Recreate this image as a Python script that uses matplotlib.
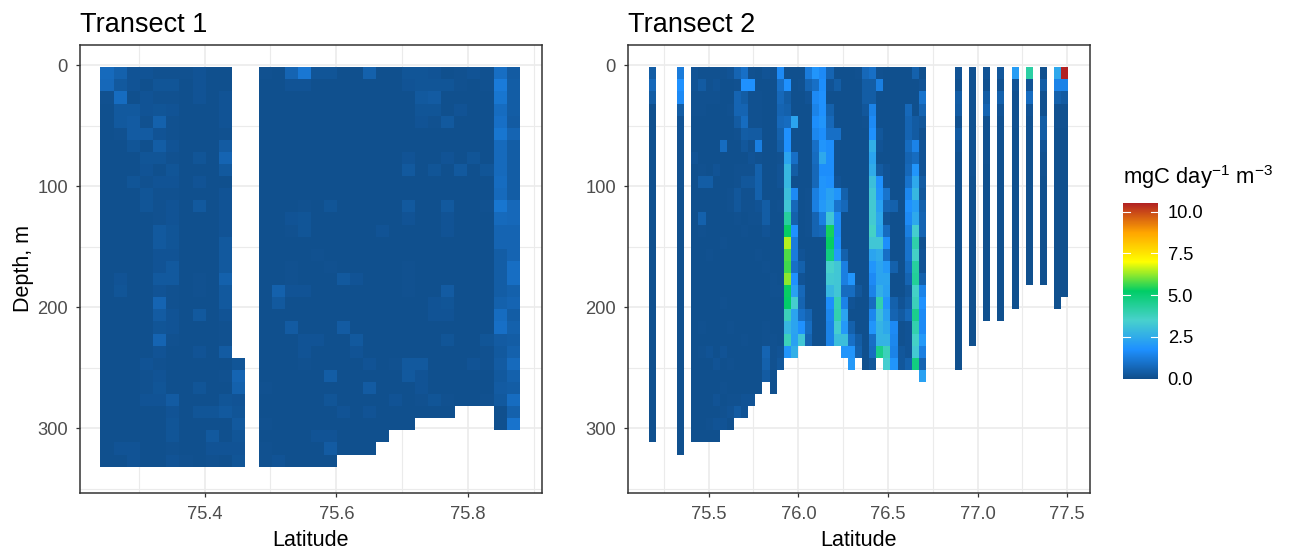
import numpy as np
import matplotlib
matplotlib.use("Agg")
import matplotlib.pyplot as plt
from matplotlib.colors import LinearSegmentedColormap, Normalize
from matplotlib.cm import ScalarMappable

plt.rcParams['font.family'] = ['Liberation Sans', 'DejaVu Sans']
plt.rcParams['mathtext.fontset'] = 'custom'
plt.rcParams['mathtext.rm'] = 'Liberation Sans'
plt.rcParams['mathtext.it'] = 'Liberation Sans'
plt.rcParams['mathtext.default'] = 'regular'

titles = ["Transect 1", "Transect 2"]
xlabel = "Latitude"
ylabel = "Depth, m"
legend_title = "mgC day$^{-1}$ m$^{-3}$"
legend_ticks = [0.0, 2.5, 5.0, 7.5, 10.0]
palette = ["#104E8B", "#1E90FF", "#48D1CC", "#00CD66", "#FFFF00", "#FFA500", "#B22222"]
vmax = 10.5
depth_top = 1.5
depth_step = 10
tile1 = 0.02
tile2 = 0.0397

# Transect 1: latitude -> (first row index, values from the top down)
t1 = {
75.2515: (0, [.75,.7,.1,.05,.05,.05,.05,.05,.05,.05, .05,.05,.05,.05,.05,.05,.05,.05,.05,.05, .05,.05,.05,.05,.05,.05,.05,.05,.05,.05, .05,.05,.05]),
75.2715: (0, [.5,.3,.8,.3,.3,.1,.05,.05,.05,.05, .05,.05,.05,.05,.05,.05,.05,.15,.2,.05, .05,.05,.05,.05,.05,.05,.05,.05,.05,.05, .05,.15,.05]),
75.2915: (0, [.15,.15,.05,.3,.35,.35,.2,.05,.05,.2, .05,.05,.05,.05,.05,.05,.05,.05,.05,.05, .05,.05,.05,.05,.05,.05,.05,.05,.05,.05, .05,.15,.15]),
75.3115: (0, [.15,.05,.15,.15,.1,.35,.05,.2,.15,.1, .2,.2,.05,.05,.05,.05,.05,.05,.05,.05, .05,.05,.05,.05,.15,.1,.1,.15,.05,.05, .05,.05,.05]),
75.3315: (0, [.1,.2,.1,.2,.5,.15,.4,.2,.05,.15, .1,.1,.1,.3,.3,.15,.15,.3,.15,.6, .35,.2,.6,.15,.1,.15,.2,.15,.05,.05, .05,.05,.05]),
75.3515: (0, [.1,.2,.1,.15,.1,.1,.15,.1,.2,.15, .1,.15,.15,.2,.2,.15,.3,.3,.1,.1, .15,.15,.1,.05,.05,.05,.05,.35,.15,.2, .2,.1,.15]),
75.3715: (0, [.1,.05,.05,.05,.05,.05,.05,.05,.05,.05, .05,.05,.05,.05,.05,.05,.05,.05,.05,.05, .05,.05,.05,.05,.05,.05,.05,.05,.05,.05, .05,.05,.1]),
75.3915: (0, [.15,.15,.15,.05,.05,.05,.05,.2,.05,.15, .05,.3,.05,.05,.05,.05,.05,.1,.1,.05, .3,.05,.05,.15,.05,.05,.2,.05,.2,.05, .05,.05,.05]),
75.4115: (0, [.05,.05,.05,.05,.05,.05,.05,.05,.05,.05, .05,.05,.05,.05,.05,.05,.05,.05,.05,.05, .05,.05,.05,.05,.05,.05,.05,.05,.2,.05, .3,.15,.1]),
75.4315: (0, [.05,.05,.15,.15,.15,.1,.35,.6,.3,.05, .15,.15,.15,.15,.3,.3,.3,.5,.3,.3, .15,.1,.1,.35,.05,.1,.05,.2,.3,.05, .05,.15,.05]),
75.4515: (24, [.2,.6,.5,.15,.2,.3,.2,.15,.2]),
75.4925: (0, [.1,.05,.05,.05,.05,.05,.05,.05,.05,.05, .05,.05,.05,.05,.05,.05,.05,.05,.05,.05, .05,.05,.05,.05,.05,.05,.1,.05,.05,.1, .05,.1,.1]),
75.5123: (0, [.05,.05,.05,.05,.05,.05,.05,.05,.05,.05, .05,.05,.05,.05,.05,.05,.05,.05,.5,.3, .05,.05,.05,.05,.05,.05,.05,.05,.05,.05, .05,.05,.15]),
75.5321: (0, [.6,.15,.05,.05,.05,.05,.05,.05,.05,.05, .05,.05,.15,.1,.05,.05,.1,.1,.15,.05, .05,.35,.05,.05,.05,.05,.05,.05,.05,.05, .05,.05,.05]),
75.5519: (0, [1.1,.15,.05,.05,.05,.05,.05,.05,.05,.05, .05,.1,.2,.2,.05,.05,.05,.05,.15,.05, .05,.05,.15,.15,.1,.05,.05,.05,.05,.05, .05,.05,.05]),
75.5717: (0, [.2,.05,.05,.05,.05,.05,.05,.05,.05,.05, .05,.05,.05,.05,.05,.1,.05,.05,.05,.05, .05,.05,.15,.05,.05,.05,.05,.05,.05,.05, .15,.05,.05]),
75.5915: (0, [.2,.05,.05,.05,.05,.05,.05,.05,.05,.05, .05,.2,.05,.05,.05,.05,.1,.05,.05,.05, .05,.05,.05,.05,.05,.4,.05,.2,.05,.05, .15,.35,.05]),
75.6113: (0, [.05,.05,.05,.05,.05,.05,.05,.05,.05,.05, .05,.05,.05,.05,.05,.05,.05,.3,.05,.05, .05,.35,.05,.05,.05,.05,.05,.05,.15,.05, .05,.05]),
75.6311: (0, [.05,.05,.05,.05,.05,.05,.05,.05,.05,.05, .05,.05,.05,.05,.05,.05,.05,.15,.05,.05, .05,.05,.3,.15,.05,.05,.05,.05,.05,.05, .05,.05]),
75.6509: (0, [.5,.05,.05,.05,.05,.05,.05,.05,.05,.05, .05,.05,.05,.05,.05,.05,.05,.05,.05,.05, .05,.05,.05,.05,.15,.05,.35,.05,.15,.05, .05,.05]),
75.6707: (0, [.05,.05,.05,.05,.05,.05,.05,.05,.05,.05, .05,.05,.05,.15,.05,.05,.05,.05,.05,.05, .05,.05,.05,.05,.05,.05,.05,.05,.05,.05, .05]),
75.6905: (0, [.05,.05,.05,.05,.05,.05,.05,.05,.05,.05, .05,.05,.05,.05,.05,.05,.05,.05,.05,.05, .05,.05,.05,.05,.1,.05,.05,.15,.05,.05]),
75.7103: (0, [.2,.15,.05,.05,.05,.05,.05,.15,.3,.05, .05,.3,.15,.05,.05,.05,.1,.1,.1,.05, .05,.05,.05,.05,.3,.3,.05,.05,.05,.05]),
75.7301: (0, [.2,.2,.3,.2,.15,.05,.05,.05,.05,.05, .05,.05,.05,.05,.05,.05,.05,.05,.05,.05, .05,.05,.05,.05,.3,.15,.15,.1,.05]),
75.7499: (0, [.15,.2,.35,.2,.1,.05,.05,.05,.2,.05, .05,.05,.05,.05,.05,.05,.05,.05,.05,.15, .15,.05,.05,.05,.05,.05,.05,.2,.05]),
75.7697: (0, [.05,.2,.05,.05,.3,.05,.05,.15,.05,.05, .05,.3,.15,.15,.05,.05,.05,.05,.35,.2, .15,.05,.2,.05,.05,.05,.05,.1,.05]),
75.7895: (0, [.1,.1,.05,.15,.05,.05,.05,.05,.3,.05, .05,.05,.05,.05,.05,.05,.05,.05,.05,.05, .05,.05,.05,.05,.05,.05,.05,.05]),
75.8093: (0, [.15,.05,.05,.05,.05,.05,.05,.2,.05,.05, .05,.05,.05,.05,.05,.05,.05,.05,.05,.05, .05,.05,.05,.05,.15,.05,.05,.05]),
75.8291: (0, [.1,.1,.05,.05,.05,.05,.05,.05,.2,.05, .05,.1,.05,.05,.05,.05,.05,.05,.05,.05, .05,.05,.2,.1,.1,.05,.05,.1]),
75.8489: (0, [.85,1.2,1.05,.8,.9,1.05,.75,.75,.75,.8, .75,1.05,.75,.6,.6,.4,.4,.4,.4,.5, .8,.9,.35,.3,.35,.3,.35,.3,.05,.05]),
75.8687: (0, [.35,.4,.4,.4,.35,.6,.4,.4,.4,.4, .4,.7,.7,.6,.6,.6,.85,.85,.5,.6, .4,.5,.4,.5,.75,.5,.4,.8,.5,1.0]),
}

# Transect 2: latitude -> values from the top down
t2 = {
75.185: [.4,.7,.4,.05,.05,.05,.05,.05,.05,.05, .05,.05,.05,.05,.05,.05,.05,.05,.05,.05, .05,.05,.05,.05,.05,.05,.05,.05,.05,.05, .05],
75.344: [1.2,1.8,1.6,.4,.15,.15,.1,.1,.1,.1, .05,.05,.05,.05,.05,.05,.05,.05,.05,.05, .05,.05,.05,.05,.05,.05,.05,.05,.05,.05, .05,.05],
75.423: [.15,.15,.1,.1,.05,.05,.05,.15,.05,.05, .05,.05,.05,.05,.05,.05,.05,.05,.05,.05, .05,.05,.05,.05,.05,.05,.05,.05,.05,.05, .05],
75.463: [.1,.35,.1,.1,.05,.05,.05,.05,.1,.4, .05,.05,.5,.1,.05,.05,.05,.05,.05,.05, .05,.1,.05,.1,.05,.05,.05,.05,.05,.05, .05],
75.503: [.1,.1,.1,.05,.05,.05,.05,.05,.05,.4, .05,.05,.05,.05,.05,.1,.05,.05,.05,.05, .05,.05,.05,.15,.05,.05,.05,.05,.05,.1, .05],
75.542: [.1,.15,.1,.05,.05,.05,.05,.05,.15,.05, .05,.05,.05,.05,.05,.05,.05,.05,.05,.05, .05,.05,.05,.05,.15,.05,.05,.15,.05,.15, .05],
75.582: [.1,.05,.05,.05,.05,.05,.8,.05,.05,.05, .05,.05,.05,.05,.1,.05,.05,.05,.05,.1, .05,.05,.05,.15,.05,.05,.1,.05,.1,.15],
75.622: [.15,.05,.05,.1,.05,.05,.05,.05,.05,.05, .1,.1,.05,.05,.05,.05,.05,.05,.05,.05, .05,.1,.05,.05,.1,.05,.05,.1,.15,.05],
75.661: [.6,.1,.6,.6,.35,.1,.05,.05,.1,.1, .25,.25,.1,.05,.05,.05,.05,.05,.05,.05, .05,.05,.05,.05,.05,.05,.05,.1,.35],
75.701: [.9,1.8,.4,.6,.8,.4,.25,.05,.1,.25, .1,.1,.05,.1,.05,.05,.05,.05,.05,.05, .05,.05,.1,.05,.05,.05,.05,.15,.15],
75.741: [.1,1.8,.1,.1,.1,.35,.1,.15,.1,.25, .1,.1,.1,.05,.05,.05,.05,.05,.05,.05, .05,.05,.05,.05,.05,.05,.05,.15],
75.780: [.05,.05,.1,.1,.1,.35,1.3,.1,.5,.5, .5,.15,.1,.05,.05,.1,.05,.05,.05,.05, .05,.05,.05,.05,.05,.05,.05],
75.820: [.15,.05,.05,.05,.05,.05,.05,.05,.05,.05, .05,.4,.4,.15,.05,.05,.1,.05,.05,.05, .05,.1,.1,.6,.5,.35],
75.860: [.1,.05,.05,.05,.05,.05,.05,.05,.05,.05, .05,.05,.05,.05,.05,.05,.05,.1,.1,.05, .05,.05,.1,.1,.1,.05,.05],
75.899: [1.6,.9,.7,.6,.7,.5,.4,.1,.15,.15, .05,.1,.05,.05,.05,.05,.05,.05,.1,.05, .05,.05,.05,.15,.25],
75.939: [.05,1.8,.4,.5,.8,1.8,1.8,2.3,2.8,2.8, 3.0,3.2,4.3,5.3,6.5,5.8,5.7,6.2,5.3,5.2, 3.8,2.8,3.8,1.9],
75.979: [.05,.05,.05,.05,2.3,.05,.05,.9,.4,.05, 1.6,.7,.5,1.8,1.2,1.2,.9,1.8,2.2,3.4, 2.3,2.3,2.2,2.6],
76.018: [.05,.1,.05,.05,.05,.05,.05,.05,.05,.05, .05,.05,.05,.05,.05,.15,.5,.15,.7,.6, .9,1.8,3.2],
76.058: [1.2,.6,.15,.05,.05,.05,.05,.05,.05,.05, .1,.1,.1,.1,.05,.05,.05,.05,.05,.05, .6,.8,.6],
76.098: [1.9,.9,1.6,1.4,1.7,1.5,.9,.8,.7,.7, 1.3,1.3,.6,.6,.05,.05,.05,.05,.05,.05, .05,.05,.05],
76.138: [1.6,1.7,1.8,1.8,1.9,1.7,1.9,2.4,1.7,1.9, 1.9,2.0,1.3,.7,.05,.05,.05,.05,.05,.05, .05,.05,.05],
76.177: [.6,.15,.05,.5,.7,.9,1.7,1.7,1.7,1.8, 2.2,2.3,3.2,5.4,5.3,4.8,3.5,3.3,2.8,1.7, 1.5,1.4,1.4],
76.217: [.05,.4,.05,.05,.05,.9,.05,.05,.05,.15, 1.9,1.0,1.6,1.6,1.7,2.0,3.2,3.2,3.2,3.9, 4.0,3.4,3.0],
76.257: [.05,.05,.05,.05,.05,.05,.05,.05,.05,.05, .5,.7,.05,.05,.05,.5,1.3,1.3,.8,1.4, 2.3,2.0,3.0,1.9],
76.296: [.05,.05,.05,.05,.05,.05,.05,.05,.05,.05, .05,.05,.05,.05,.05,.05,.05,1.9,.8,.15, .05,.5,.9,1.9,2.0],
76.336: [.1,.05,.05,.05,.05,.05,.05,.05,.05,.05, .05,.05,.05,.05,.05,.05,.05,.05,.25,.05, .05,.05,.4,.5],
76.376: [.7,.4,.4,.25,.1,.05,.05,.05,.05,.05, .05,.05,.05,.05,.05,.05,.05,.05,.05,.05, .05,.05,.05,.05,.05],
76.415: [.9,.4,.4,1.4,1.6,1.8,2.6,2.3,2.5,3.0, 3.2,3.3,3.3,3.6,3.2,2.3,1.9,1.6,1.4,.8, 1.5,1.9,.9,.8,.25],
76.455: [.1,1.3,.05,.05,.05,.25,.15,.05,.35,1.8, 1.9,2.2,2.4,2.3,3.2,2.5,2.3,2.3,2.6,4.0, 3.0,2.7,2.7,4.6],
76.495: [.05,.05,.05,.05,.05,.05,.05,.05,.15,.15, 1.0,.6,.15,.8,1.7,.9,2.0,2.3,2.2,1.9, 2.2,2.4,2.7,3.8,3.4],
76.534: [.05,.05,.05,.05,.05,.05,.05,.05,.05,.05, .05,.5,.05,.05,.05,.05,.5,.05,.05,.5, .6,1.6,1.5,1.4,1.9],
76.574: [.05,.05,.05,.05,.05,.05,.05,.05,.05,.05, .05,.05,.05,.05,.05,.05,.05,.05,.05,.15, .35,.1,.1,.25,.25],
76.614: [.05,.05,.05,.7,.6,.6,.8,.6,.7,1.0, 1.5,1.8,1.6,1.3,1.0,1.0,.8,.6,.25,.4, .7,.15,.15,.15,.5],
76.654: [.5,.05,.05,.05,.35,.35,1.4,.8,1.9,2.4, 2.8,2.1,2.4,3.4,4.1,3.6,4.3,4.4,3.6,3.8, 4.6,4.0,3.6,3.3,4.8],
76.693: [.05,.15,1.0,.6,.25,.1,.15,.15,.15,.35, .25,.5,.6,.6,.1,.15,.15,.5,1.4,1.8, 1.6,1.6,2.0,1.3,.6,2.2],
76.892: [.15,.1,.4,.35,.1,.35,.15,.1,.1,.1, .1,.05,.05,.05,.05,.05,.05,.05,.05,.05, .05,.05,.05,.05,.05],
76.971: [.1,.1,.1,.1,.1,.1,.1,.1,.1,.05, .05,.05,.05,.05,.05,.05,.05,.05,.05,.05, .05,.05,.05],
77.050: [.15,.1,.4,.6,.1,.1,.1,.1,.05,.05, .05,.05,.05,.05,.05,.05,.05,.05,.05,.05, .05],
77.129: [.25,.1,.5,.15,.1,.1,.05,.05,.05,.05, .05,.05,.05,.05,.05,.05,.05,.05,.05,.05, .05],
77.209: [2.1,.15,.1,.1,.1,.05,.05,.05,.05,.05, .05,.05,.05,.05,.05,.05,.05,.05,.05,.05],
77.288: [4.2,.15,.8,.15,.1,.1,.05,.05,.05,.05, .05,.05,.05,.05,.05,.05,.05,.05],
77.367: [.05,.4,.1,.1,.4,.4,.15,.1,.1,.05, .05,.05,.05,.05,.05,.05,.05,.05],
77.447: [2.4,1.4,.5,.1,.1,.05,.05,.05,.05,.05, .05,.05,.05,.05,.05,.05,.05,.05,.05,.05],
77.487: [10.5,1.4,.35,.1,.1,.05,.05,.05,.05,.05, .05,.05,.05,.05,.05,.05,.05,.05,.05],
}

W, H = 1290, 554
fig = plt.figure(figsize=(W/100, H/100), dpi=100, facecolor='white')
def px_axes(l, t, r, b):
    return fig.add_axes([l/W, 1-b/H, (r-l)/W, (b-t)/H])

cmap = LinearSegmentedColormap.from_list("pp", palette, N=512)
norm = Normalize(0, vmax)

def style(ax, xlim, xmaj, xmin, xfmt):
    ax.set_xlim(*xlim)
    ax.set_ylim(353.3, -16.9)
    ax.set_xticks(xmaj)
    ax.set_xticklabels([xfmt % v for v in xmaj])
    ax.set_xticks(xmin, minor=True)
    ax.set_yticks([0, 100, 200, 300])
    ax.set_yticks([50, 150, 250, 350], minor=True)
    ax.set_axisbelow(True)
    ax.grid(True, which='major', color='#EBEBEB', lw=1.2)
    ax.grid(True, which='minor', color='#EBEBEB', lw=0.8)
    ax.tick_params(which='minor', length=0)
    ax.tick_params(which='major', length=3.2, width=0.9, color='#333333',
                   labelcolor='#4D4D4D', labelsize=13.2)
    ax.tick_params(axis='x', which='major', pad=6.5)
    ax.tick_params(axis='y', which='major', pad=5.5)
    for s in ax.spines.values():
        s.set_color('#333333'); s.set_linewidth(1.1); s.set_zorder(5)
    ax.set_xlabel(xlabel, fontsize=15.5, color='black', labelpad=5)

def draw(ax, lat, start, vals, w):
    edges = depth_top + depth_step*np.arange(start, start+len(vals)+1)
    ax.pcolormesh([lat-w/2, lat+w/2], edges, np.array(vals)[:, None],
                  cmap=cmap, norm=norm, shading='flat', linewidth=0, zorder=2)

ax1 = px_axes(80, 45, 542, 493)
for lat, (start, vals) in t1.items():
    draw(ax1, lat, start, vals, tile1)
style(ax1, (75.2105, 75.9126), [75.4, 75.6, 75.8], [75.3, 75.5, 75.7, 75.9], '%.1f')
ax1.set_ylabel(ylabel, fontsize=15.5, labelpad=2.5)
ax1.set_title(titles[0], loc='left', fontsize=19.5, pad=9)

ax2 = px_axes(628, 45, 1090, 493)
for lat, vals in t2.items():
    draw(ax2, lat, 0, vals, tile2)
style(ax2, (75.05, 77.627), [75.5, 76.0, 76.5, 77.0, 77.5],
      [75.25, 75.75, 76.25, 76.75, 77.25], '%.1f')
ax2.set_title(titles[1], loc='left', fontsize=19.5, pad=9)

cax = px_axes(1123, 203.3, 1158, 378.7)
cb = fig.colorbar(ScalarMappable(norm=norm, cmap=cmap), cax=cax)
cb.outline.set_visible(False)
cb.set_ticks(legend_ticks)
cb.set_ticklabels(['%.1f' % v for v in legend_ticks])
cax.tick_params(length=0, labelsize=13.2, pad=7, labelcolor='black')
for v in legend_ticks[1:]:
    cax.plot([0, 0.2], [v, v], color='white', lw=0.8, transform=cax.get_yaxis_transform())
    cax.plot([0.8, 1], [v, v], color='white', lw=0.8, transform=cax.get_yaxis_transform())
fig.text(1123/W, 1-177/H, legend_title, fontsize=15.8, ha='left', va='center', color='black')

fig.savefig('out.png', dpi=100)
